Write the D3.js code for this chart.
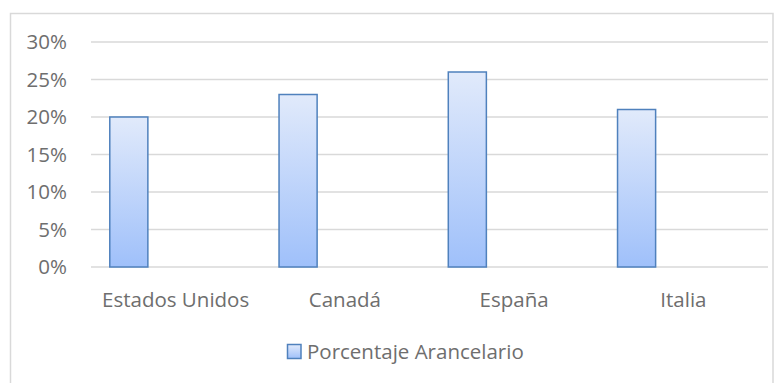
<!DOCTYPE html>
<html>
<head>
<meta charset="utf-8">
<script src="https://cdn.jsdelivr.net/npm/d3@7"></script>
<style>
  html, body { margin: 0; padding: 0; background: #fff; }
  svg { display: block; }
  text { font-family: "Open Sans", "Noto Sans", sans-serif; fill: #6e6e6e; }
</style>
</head>
<body>
<svg id="chart" width="784" height="383"></svg>
<script>
// Tariff percentage by country
const categories = ["Estados Unidos", "Canadá", "España", "Italia"];
const values = [0.20, 0.23, 0.26, 0.21];
const yTicks = [0, 0.05, 0.10, 0.15, 0.20, 0.25, 0.30];
const seriesName = "Porcentaje Arancelario";

const svg = d3.select("#chart");
const W = 784, H = 383;
const plot = { left: 91, right: 768, top: 42, bottom: 267 };
const fontSize = 20.5;
const textColor = "#6e6e6e";

// gradient for bar fill
const defs = svg.append("defs");
const grad = defs.append("linearGradient")
  .attr("id", "barGrad").attr("x1", 0).attr("y1", 0).attr("x2", 0).attr("y2", 1);
grad.append("stop").attr("offset", "0%").attr("stop-color", "#e1eafb");
grad.append("stop").attr("offset", "100%").attr("stop-color", "#9fc0fa");

// chart border
svg.append("rect")
  .attr("x", 10.5).attr("y", 13.5).attr("width", W - 11.5 - 10).attr("height", H + 10)
  .attr("fill", "#fff").attr("stroke", "#d9d9d9").attr("stroke-width", 1.5);

const x = d3.scaleBand().domain(categories).range([plot.left, plot.right]);
const y = d3.scaleLinear().domain([0, 0.30]).range([plot.bottom, plot.top]);

// horizontal gridlines
svg.append("g").selectAll("line").data(yTicks).join("line")
  .attr("x1", plot.left).attr("x2", plot.right)
  .attr("y1", d => y(d)).attr("y2", d => y(d))
  .attr("stroke", "#d9d9d9").attr("stroke-width", 1.5);

// y axis labels
const yAxis = d3.axisLeft(y).tickValues(yTicks).tickFormat(d3.format(".0%")).tickSize(0).tickPadding(0);
const gy = svg.append("g").attr("transform", `translate(67,0)`).call(yAxis);
gy.select(".domain").remove();
gy.selectAll("text").attr("font-size", fontSize).attr("fill", textColor)
  .attr("font-family", "'Open Sans', 'Noto Sans', sans-serif");

// bars: positioned at the left part of each category slot
const barOffset = x.bandwidth() * 0.111;
const barWidth = x.bandwidth() * 0.225;
svg.append("g").selectAll("rect").data(categories).join("rect")
  .attr("x", (d) => x(d) + barOffset)
  .attr("y", (d, i) => y(values[i]))
  .attr("width", barWidth)
  .attr("height", (d, i) => y(0) - y(values[i]))
  .attr("fill", "url(#barGrad)")
  .attr("stroke", "#4f81bd").attr("stroke-width", 1.5);

// x axis labels
const xAxis = d3.axisBottom(x).tickSize(0).tickPadding(0);
const gx = svg.append("g").attr("transform", `translate(0,${plot.bottom + 25})`).call(xAxis);
gx.select(".domain").remove();
gx.selectAll("text").attr("font-size", fontSize).attr("fill", textColor)
  .attr("font-family", "'Open Sans', 'Noto Sans', sans-serif");

// legend
const lg = svg.append("g").attr("transform", "translate(287,344)");
lg.append("rect").attr("x", 0.5).attr("y", 0.5).attr("width", 13.5).attr("height", 14)
  .attr("fill", "url(#barGrad)").attr("stroke", "#4f81bd").attr("stroke-width", 1.5);
lg.append("text").attr("x", 20).attr("y", 7.5).attr("dy", "0.35em")
  .attr("font-size", fontSize).attr("fill", textColor).text(seriesName);
</script>
</body>
</html>
